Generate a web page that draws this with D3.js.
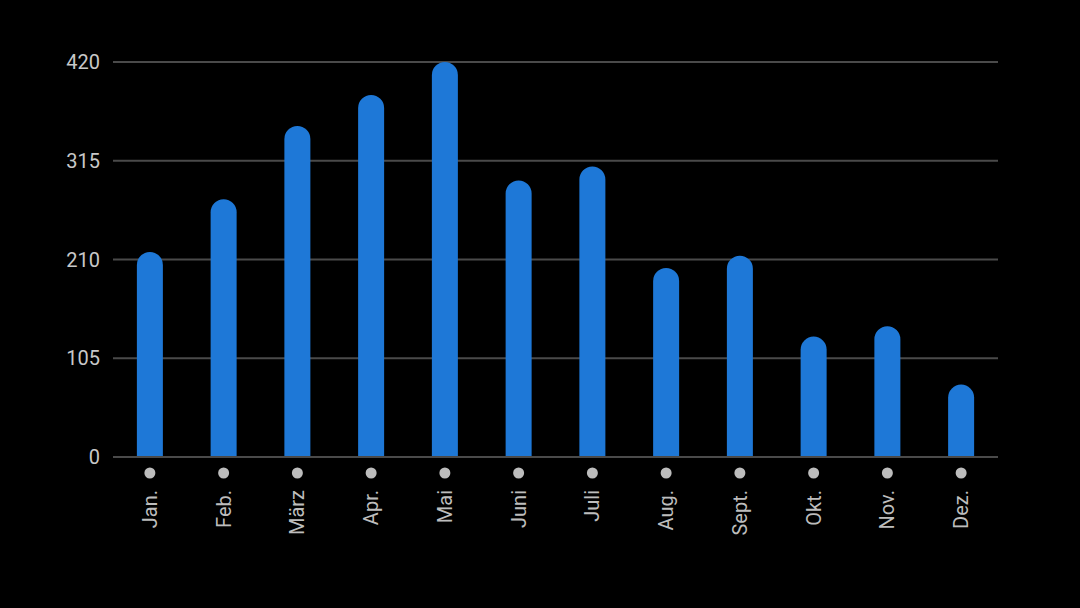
<!DOCTYPE html>
<html>
<head>
<meta charset="utf-8">
<script src="https://cdn.jsdelivr.net/npm/d3@7"></script>
<style>
  body { margin: 0; background: #000; }
  svg { display: block; }
</style>
</head>
<body>
<svg id="chart" width="1080" height="608"></svg>
<script>
var months = ["Jan.", "Feb.", "März", "Apr.", "Mai", "Juni", "Juli", "Aug.", "Sept.", "Okt.", "Nov.", "Dez."];
var values = [218, 274, 352, 385, 420, 294, 309, 201, 214, 128, 139, 77];
var yTicks = [0, 105, 210, 315, 420];

var svg = d3.select("#chart");

var x = d3.scaleBand().domain(months).range([113, 998]);
var y = d3.scaleLinear().domain([0, 420]).range([457, 62]);

var barW = 26, r = barW / 2;

// grid
svg.append("g").selectAll("line")
	.data(yTicks)
	.enter().append("line")
	.attr("x1", 113).attr("x2", 998)
	.attr("y1", function(d){ return y(d); })
	.attr("y2", function(d){ return y(d); })
	.attr("stroke", "#4a4a4a")
	.attr("stroke-width", 2);

svg.append("g").selectAll("text")
	.data(yTicks)
	.enter().append("text")
	.attr("x", 100)
	.attr("y", function(d){ return y(d); })
	.attr("dy", "0.35em")
	.attr("text-anchor", "end")
	.attr("fill", "#c8c8c8")
	.style("font", "20px Roboto, sans-serif")
	.text(function(d){ return d; });

// bars with rounded top
svg.append("g").selectAll("path")
	.data(months)
	.enter().append("path")
	.attr("fill", "#1e78d7")
	.attr("d", function(m, i){
		var cx = x(m) + x.bandwidth() / 2;
		var top = y(values[i]), base = y(0) - 1;
		var x0 = cx - r, x1 = cx + r;
		return "M" + x0 + "," + base + "L" + x0 + "," + (top + r) +
			"A" + r + "," + r + " 0 0 1 " + x1 + "," + (top + r) +
			"L" + x1 + "," + base + "Z";
	});

// dots
svg.append("g").selectAll("circle")
	.data(months)
	.enter().append("circle")
	.attr("cx", function(m){ return x(m) + x.bandwidth() / 2; })
	.attr("cy", 473)
	.attr("r", 5.5)
	.attr("fill", "#bdbdbd");

// month labels
svg.append("g").selectAll("text")
	.data(months)
	.enter().append("text")
	.attr("transform", function(m){
		return "translate(" + (x(m) + x.bandwidth() / 2 + 7) + ",490) rotate(-90)";
	})
	.attr("text-anchor", "end")
	.attr("fill", "#bdbdbd")
	.style("font", "20px Roboto, sans-serif")
	.text(function(m){ return m; });
</script>
</body>
</html>
